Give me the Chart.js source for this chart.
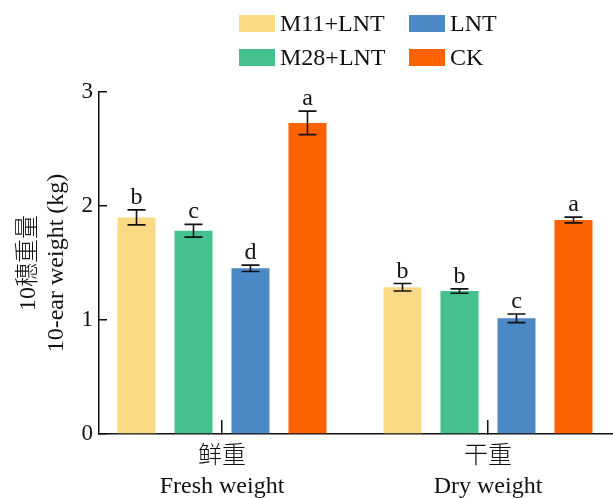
<!DOCTYPE html>
<html>
<head>
<meta charset="utf-8">
<script src="https://cdn.jsdelivr.net/npm/chart.js@4/dist/chart.umd.min.js"></script>
<style>
  html,body{margin:0;padding:0;background:#fff}
  #wrap{position:relative;width:613px;height:498px}
</style>
</head>
<body>
<div id="wrap"><canvas id="c"></canvas></div>
<script>
/* ═══ DATA ═══ */
const categories=[['鲜重','Fresh weight'],['干重','Dry weight']];
const seriesNames=['M11+LNT','M28+LNT','LNT','CK'];
const seriesColors=['#FAD985','#45C08F','#4A88C6','#FF6200'];
const m11Lnt=[1.900,1.287];
const m28Lnt=[1.783,1.254];
const lnt=[1.453,1.015];
const ck=[2.729,1.877];
const m11Err=[0.066,0.033];
const m28Err=[0.056,0.019];
const lntErr=[0.028,0.038];
const ckErr=[0.103,0.025];
const m11Sig=['b','b'];
const m28Sig=['c','b'];
const lntSig=['d','c'];
const ckSig=['a','a'];
const yTicks=[0,1,2,3];
const yTitle=['10穗重量','10-ear weight (kg)'];

const SERIF="'Liberation Serif','Times New Roman','Noto Sans CJK SC',serif";
Chart.defaults.font.family=SERIF;
Chart.defaults.color='#111';

const vals=[m11Lnt,m28Lnt,lnt,ck];
const errs=[m11Err,m28Err,lntErr,ckErr];
const sigs=[m11Sig,m28Sig,lntSig,ckSig];

/* error bars + letters */
const errPlug={
  id:'errPlug',
  afterDatasetsDraw(ch){
    const ctx=ch.ctx, ys=ch.scales.y;
    ctx.save();
    ctx.strokeStyle='#111'; ctx.lineWidth=1.6;
    ctx.fillStyle='#111';
    ctx.font='24px '+SERIF;
    ctx.textAlign='center'; ctx.textBaseline='alphabetic';
    vals.forEach((v,d)=>{
      const meta=ch.getDatasetMeta(d);
      meta.data.forEach((bar,i)=>{
        const x=bar.x, t=ys.getPixelForValue(v[i]+errs[d][i]), b=ys.getPixelForValue(v[i]-errs[d][i]);
        ctx.beginPath();
        ctx.moveTo(x,t); ctx.lineTo(x,b);
        ctx.moveTo(x-9,t); ctx.lineTo(x+9,t);
        ctx.moveTo(x-9,b); ctx.lineTo(x+9,b);
        ctx.stroke();
        ctx.fillText(sigs[d][i],x,t-6);
      });
    });
    ctx.restore();
  }
};

/* 2x2 legend, column-major like the figure */
const legPlug={
  id:'legPlug',
  afterDraw(ch){
    const ctx=ch.ctx;
    const order=[[0,2],[1,3]];
    const colX=[239,409], rowY=[24,58];
    ctx.save();
    ctx.font='24px '+SERIF;
    ctx.textBaseline='middle'; ctx.textAlign='left';
    order.forEach((row,r)=>row.forEach((s,c)=>{
      ctx.fillStyle=seriesColors[s];
      ctx.fillRect(colX[c],rowY[r]-9,36,17);
      ctx.fillStyle='#111';
      ctx.fillText(seriesNames[s],colX[c]+41,rowY[r]+1);
    }));
    ctx.restore();
  }
};

new Chart(document.getElementById('c'),{
  type:'bar',
  data:{
    datasets:seriesNames.map((n,d)=>({
      label:n,
      data:categories.map((c,i)=>({x:i,y:vals[d][i]})),
      backgroundColor:seriesColors[d],
      borderWidth:0,
      categoryPercentage:0.857,
      barPercentage:0.667
    }))
  },
  options:{
    responsive:true, maintainAspectRatio:false, animation:false,
    layout:{padding:{top:92,left:0,right:0,bottom:0}},
    plugins:{legend:{display:false},tooltip:{enabled:false}},
    scales:{
      x:{
        type:'linear', min:-0.4624, max:1.47, offset:false,
        afterBuildTicks:s=>{s.ticks=categories.map((c,i)=>({value:i}))},
        afterFit:s=>{s.height=64},
        grid:{offset:false,drawOnChartArea:false,tickLength:-14,color:'#111',lineWidth:1.5},
        border:{color:'#111',width:1.5},
        ticks:{
          padding:22, maxRotation:0, autoSkip:false,
          font:{size:24,lineHeight:1.25,weight:300}, color:'#111',
          callback:(v)=>categories[v]
        }
      },
      y:{
        min:0, max:3,
        afterBuildTicks:s=>{s.ticks=yTicks.map(v=>({value:v}))},
        afterFit:s=>{s.width=99},
        grid:{drawOnChartArea:false,tickLength:-8,color:'#111',lineWidth:1.5},
        border:{color:'#111',width:1.5},
        ticks:{padding:14,font:{size:23},color:'#111'},
        title:{display:true,text:yTitle,font:{size:24,lineHeight:1.17,weight:300},color:'#111',padding:{top:15,bottom:0}}
      }
    }
  },
  plugins:[errPlug,legPlug]
});
</script>
</body>
</html>
